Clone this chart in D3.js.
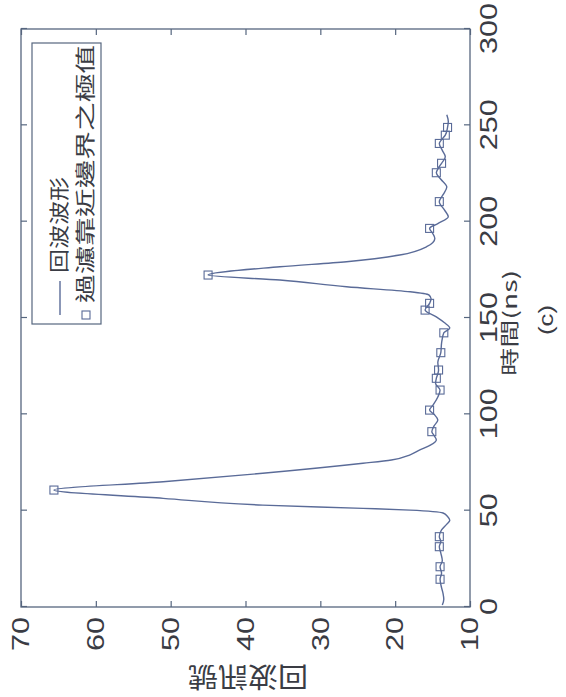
<!DOCTYPE html>
<html>
<head>
<meta charset="utf-8">
<script src="https://cdn.jsdelivr.net/npm/d3@7"></script>
<style>
  body { margin: 0; background: #fff; }
  text { font-family: "Liberation Sans", Arial, sans-serif; fill: #3a3c44; }
  .cjk { font-family: "Noto Sans CJK TC", "Noto Sans CJK SC", sans-serif; }
</style>
</head>
<body>
<svg id="chart" width="566" height="697"></svg>
<script>
// echo waveform (time in ns, signal)
const timeNs = [1, 4, 7, 10, 14.4, 17.5, 20.9, 24, 28, 31.3, 34, 36.5, 40, 43, 45, 47, 48.8,
  50.3, 51.2, 52.9, 56.4, 60.7, 65, 69.4, 74.6, 76.3, 79, 81.5, 84, 86.7, 89, 91, 94, 97, 100,
  102.2, 105, 109, 112.6, 116, 118.7, 121, 123, 127, 132, 137, 142.3, 144.8, 147.5, 150.6,
  154.1, 157.6, 160, 162, 163.6, 166.2, 169.7, 172.3, 176.6, 179.2, 182.7, 187, 191.3, 194,
  196.5, 199, 202.5, 206, 210.4, 214, 218, 222, 225.4, 228, 230.3, 233.7, 237, 240.6, 243,
  244.9, 248.9, 252, 255.5];
const echo = [13.7, 13.5, 13.6, 13.8, 14.0, 13.8, 14.0, 13.7, 13.9, 14.1, 13.9, 14.1, 13.8, 13.1, 12.7, 13.0, 13.6,
  18.0, 24.3, 37.7, 51.0, 65.6, 51.0, 37.7, 24.3, 20.5, 18.0, 16.7, 15.3, 14.5, 14.8, 15.1, 14.8, 14.3, 14.8,
  15.4, 14.9, 14.3, 14.0, 14.6, 14.5, 14.3, 14.2, 14.3, 13.9, 13.8, 13.5, 12.7, 13.4, 14.5,
  16.0, 15.4, 15.2, 15.5, 18.0, 26.5, 35.4, 45.0, 35.4, 26.5, 19.4, 15.8, 14.7, 15.0,
  15.4, 14.3, 12.9, 13.4, 14.1, 13.6, 13.1, 13.9, 14.5, 14.2, 13.8, 13.3, 13.7, 14.1, 13.7,
  13.3, 13.0, 12.9, 13.1];

// extrema kept after filtering near-boundary ones (square markers)
const peakTime = [14.4, 20.9, 31.3, 36.5, 60.7, 91, 102.2, 112.6, 118.7, 123, 132, 142.3,
  154.1, 157.6, 172.3, 196.5, 210.4, 225.4, 230.3, 240.6, 244.9, 248.9];
const peakVal = [14.0, 14.0, 14.1, 14.1, 65.6, 15.1, 15.4, 14.0, 14.5, 14.2, 13.9, 13.5,
  16.0, 15.4, 45.0, 15.4, 14.1, 14.5, 13.8, 14.1, 13.3, 13.0];

const timeTicks = [0, 50, 100, 150, 200, 250, 300];
const sigTicks = [10, 20, 30, 40, 50, 60, 70];

const LINE = "#5a6b98", AXIS = "#56667f";
const W = 578, H = 449;

const svg = d3.select("#chart");
// the whole figure is printed turned a quarter turn counter-clockwise
const g = svg.append("g").attr("transform", "translate(21,607) rotate(-90)");

const x = d3.scaleLinear().domain([0, 300]).range([0, W]);
const y = d3.scaleLinear().domain([10, 70]).range([H, 0]);

const digitLen = (t) => String(t).length * 17;

// axes with inward ticks (labels only bottom + left)
const ax = g.append("g").attr("transform", `translate(0,${H})`)
  .call(d3.axisBottom(x).tickValues(timeTicks).tickSizeInner(-6).tickSizeOuter(0).tickPadding(10));
const ay = g.append("g")
  .call(d3.axisLeft(y).tickValues(sigTicks).tickSizeInner(-6).tickSizeOuter(0).tickPadding(10));
g.append("g").call(d3.axisTop(x).tickValues(timeTicks).tickSizeInner(-6).tickSizeOuter(0).tickFormat(""));
g.append("g").attr("transform", `translate(${W},0)`)
  .call(d3.axisRight(y).tickValues(sigTicks).tickSizeInner(-6).tickSizeOuter(0).tickFormat(""));

g.selectAll(".domain").remove();
g.selectAll(".tick line").attr("stroke", AXIS).attr("stroke-width", 1.2);
[ax, ay].forEach((a) => a.selectAll(".tick text")
  .attr("font-size", 24).attr("font-family", null).attr("fill", "#3a3c44")
  .attr("textLength", (d) => digitLen(d)).attr("lengthAdjust", "spacingAndGlyphs"));
ax.attr("font-family", null);
ay.attr("font-family", null);

g.append("rect").attr("width", W).attr("height", H)
  .attr("fill", "none").attr("stroke", AXIS).attr("stroke-width", 1.3);

// waveform
const pts = timeNs.map((t, i) => [t, echo[i]]);
g.append("path").datum(pts)
  .attr("fill", "none").attr("stroke", LINE).attr("stroke-width", 1.4)
  .attr("d", d3.line().x((d) => x(d[0])).y((d) => y(d[1])).curve(d3.curveMonotoneX));

// filtered extrema
g.selectAll(".mk").data(peakTime.map((t, i) => [t, peakVal[i]])).enter().append("rect")
  .attr("x", (d) => x(d[0]) - 4).attr("y", (d) => y(d[1]) - 4)
  .attr("width", 8).attr("height", 8)
  .attr("fill", "none").attr("stroke", LINE).attr("stroke-width", 1.1);

// legend
const lg = g.append("g");
lg.append("rect").attr("x", 283).attr("y", 11).attr("width", 281).attr("height", 69)
  .attr("fill", "#fff").attr("stroke", AXIS).attr("stroke-width", 1.2);
lg.append("line").attr("x1", 292).attr("x2", 326).attr("y1", 39).attr("y2", 39)
  .attr("stroke", LINE).attr("stroke-width", 1.4);
lg.append("text").attr("class", "cjk").attr("x", 334).attr("y", 46).attr("font-size", 20)
  .attr("textLength", 96).attr("lengthAdjust", "spacingAndGlyphs").text("回波波形");
lg.append("rect").attr("x", 288).attr("y", 61).attr("width", 8).attr("height", 8)
  .attr("fill", "none").attr("stroke", LINE).attr("stroke-width", 1.1);
lg.append("text").attr("class", "cjk").attr("x", 304).attr("y", 72).attr("font-size", 20)
  .attr("textLength", 258).attr("lengthAdjust", "spacingAndGlyphs").text("過濾靠近邊界之極值");

// axis titles
g.append("text").attr("class", "cjk").attr("x", 284).attr("y", 496).attr("text-anchor", "middle")
  .attr("font-size", 19).attr("textLength", 106).attr("lengthAdjust", "spacingAndGlyphs").text("時間(ns)");
g.append("text").attr("x", 287).attr("y", 532).attr("text-anchor", "middle")
  .attr("font-size", 21).attr("textLength", 30).attr("lengthAdjust", "spacingAndGlyphs").text("(c)");
g.append("text").attr("class", "cjk").attr("text-anchor", "middle")
  .attr("transform", "translate(-60,227) rotate(-90)")
  .attr("font-size", 27).attr("textLength", 120).attr("lengthAdjust", "spacingAndGlyphs").text("回波訊號");
</script>
</body>
</html>
